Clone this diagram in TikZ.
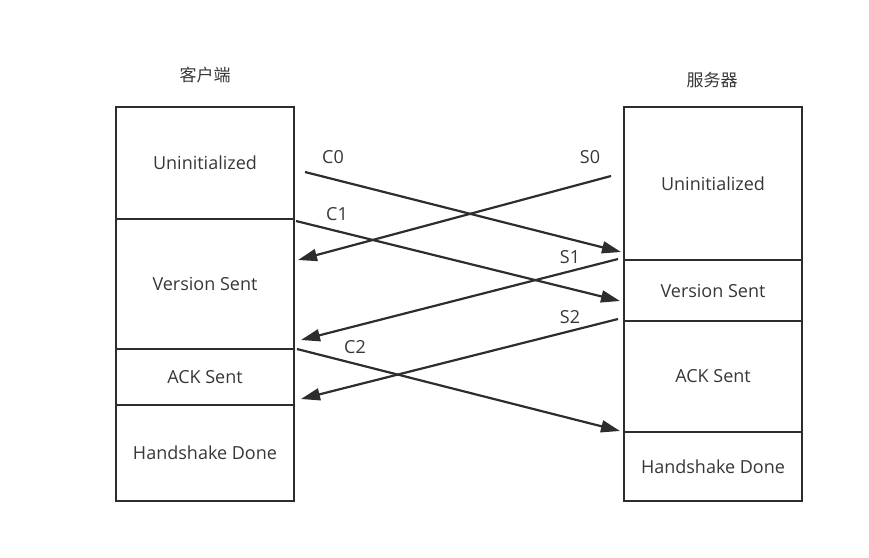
\documentclass[tikz,border=0pt]{standalone}
\usepackage{fontspec}
\setmainfont{Open Sans}
\newfontfamily\cjkfont{Noto Sans CJK SC}
\usetikzlibrary{positioning, arrows.meta}
\definecolor{linegray}{RGB}{45,45,45}
\definecolor{textgray}{RGB}{55,55,55}

\begin{document}
\begin{tikzpicture}[x=1pt, y=-1pt,
    state/.style={draw=linegray, line width=2.2pt, minimum width=178pt, inner sep=0pt,
                  outer sep=0pt, text=textgray, font=\fontsize{18}{21}\selectfont},
    msg/.style={draw=linegray, line width=2.2pt, -{Triangle[length=19pt, width=12pt]}},
    msglabel/.style={text=textgray, inner sep=0pt, font=\fontsize{18}{21}\selectfont}]
  \useasboundingbox (0,0) rectangle (869,557);

  % client side
  \node[text=textgray, font=\fontsize{17}{20}\selectfont\cjkfont] (client) at (205,75) {客户端};
  \node[state, minimum height=112pt] (cU) at (205,163) {Uninitialized};
  \node[state, minimum height=130pt, below=0pt of cU] (cV) {Version Sent};
  \node[state, minimum height=56pt, below=0pt of cV] (cA) {ACK Sent};
  \node[state, minimum height=96pt, below=0pt of cA] (cH) {Handshake Done};

  % server side
  \node[text=textgray, font=\fontsize{17}{20}\selectfont\cjkfont] (server) at (712,80) {服务器};
  \node[state, minimum height=153pt] (sU) at (713,183.5) {Uninitialized};
  \node[state, minimum height=61pt, below=0pt of sU] (sV) {Version Sent};
  \node[state, minimum height=111pt, below=0pt of sV] (sA) {ACK Sent};
  \node[state, minimum height=69pt, below=0pt of sA] (sH) {Handshake Done};

  % message ends
  \coordinate (c0a) at (305,172);  \coordinate (c0b) at (621,252);
  \coordinate (s0a) at (611,176);  \coordinate (s0b) at (298,260);
  \coordinate (c1a) at (296,221);  \coordinate (c1b) at (620,301);
  \coordinate (s1a) at (618,259);  \coordinate (s1b) at (301,340);
  \coordinate (s2a) at (618,319);  \coordinate (s2b) at (301,399);
  \coordinate (c2a) at (297,349);  \coordinate (c2b) at (620,431);

  \draw[msg] (c0a) -- (c0b);
  \draw[msg] (s0a) -- (s0b);
  \draw[msg] (c1a) -- (c1b);
  \draw[msg] (s1a) -- (s1b);
  \draw[msg] (s2a) -- (s2b);
  \draw[msg] (c2a) -- (c2b);

  \node[msglabel] (lc0) at (333,157) {C0};
  \node[msglabel] (ls0) at (590,157) {S0};
  \node[msglabel] (lc1) at (337,214) {C1};
  \node[msglabel] (ls1) at (570,257) {S1};
  \node[msglabel] (ls2) at (570,317) {S2};
  \node[msglabel] (lc2) at (355,347) {C2};
\end{tikzpicture}
\end{document}
